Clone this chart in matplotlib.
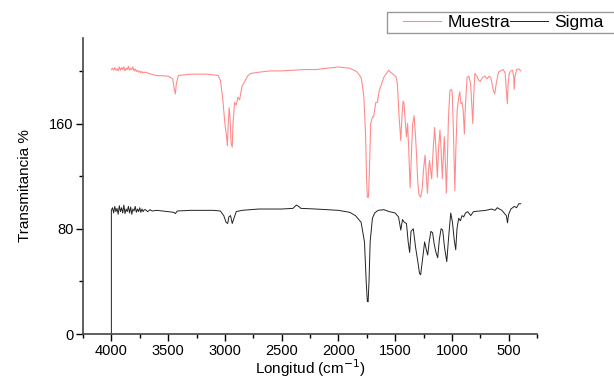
import matplotlib.pyplot as plt
from matplotlib.patches import Rectangle
from matplotlib.ticker import MultipleLocator

plt.rcParams['font.family'] = ['Liberation Sans', 'DejaVu Sans']

# Sigma spectrum (wavenumber, transmittance)
sigma_x = [4000, 4000, 3990, 3980, 3970, 3960, 3950, 3940, 3930, 3920, 3910, 3900, 3890, 3880,
           3870, 3860, 3850, 3840, 3830, 3820, 3810, 3800, 3790, 3780, 3770, 3760, 3750, 3740,
           3730, 3720, 3710, 3700, 3680, 3660, 3640, 3600, 3550, 3500, 3450, 3436, 3420, 3300,
           3100, 3040, 3010, 2990, 2975, 2965, 2950, 2935, 2920, 2900, 2850, 2700, 2500, 2400,
           2370, 2350, 2330, 2200, 2000, 1900, 1850, 1800, 1770, 1755, 1745, 1738, 1730, 1720,
           1700, 1680, 1650, 1600, 1550, 1500, 1470, 1450, 1435, 1420, 1400, 1385, 1372, 1360,
           1340, 1320, 1300, 1285, 1275, 1260, 1240, 1225, 1213, 1200, 1185, 1170, 1155, 1140,
           1125, 1110, 1095, 1081, 1065, 1045, 1030, 1010, 995, 980, 966, 955, 940, 925, 910,
           896, 880, 860, 834, 810, 750, 700, 650, 620, 600, 560, 540, 520, 510, 500, 480, 450,
           430, 410, 393]
sigma_y = [0, 94, 96, 92, 97, 93, 95.5, 91, 97.5, 93, 96, 92, 98, 91.5, 95, 93, 97, 92, 96.5,
           91, 95, 93.5, 97, 92.5, 95, 93, 96, 92.5, 95, 93, 94.5, 94.5, 93, 94.5, 93.5,
           94, 93.5, 93, 92.5, 91.5, 93.5, 94, 94, 93.5, 90, 85, 84, 89, 90, 84, 88, 93, 94, 95,
           95, 95.5, 98, 97, 95.5, 95, 94, 92.5, 90, 85, 70, 40, 25, 24.5, 40, 70, 88, 92, 94,
           94.5, 93, 92, 89, 79, 87, 85, 84, 70, 62, 78, 80, 66, 55, 46, 45, 56, 70, 64, 60, 70,
           78, 77, 68, 62, 58, 72, 80, 79, 66, 55, 72, 92, 85, 72, 64, 80, 88, 86, 90, 89, 92,
           93, 90, 93, 93.5, 94, 95, 94, 96, 94, 92, 90, 84.5, 91, 95, 97, 96, 99, 99]

# Muestra spectrum (wavenumber, transmittance)
muestra_x = [4000, 3990, 3980, 3970, 3960, 3950, 3940, 3930, 3920, 3910, 3900, 3890, 3880, 3870,
             3860, 3850, 3840, 3830, 3820, 3810, 3800, 3790, 3780, 3770, 3760, 3750, 3740, 3730,
             3720, 3700, 3650, 3600, 3500, 3460, 3445, 3436, 3428, 3410, 3300, 3150, 3060, 3040,
             3020, 3000, 2985, 2978, 2970, 2962, 2955, 2945, 2935, 2928, 2915, 2900, 2885, 2870,
             2850, 2800, 2775, 2700, 2600, 2500, 2400, 2300, 2200, 2100, 2000, 1950, 1900, 1850,
             1833, 1800, 1790, 1775, 1760, 1752, 1745, 1735, 1728, 1715, 1700, 1690, 1670, 1657,
             1640, 1600, 1570, 1557, 1540, 1510, 1490, 1480, 1465, 1450, 1440, 1430, 1421, 1410,
             1400, 1390, 1380, 1368, 1355, 1345, 1333, 1320, 1309, 1300, 1290, 1275, 1262, 1250,
             1236, 1225, 1215, 1205, 1197, 1188, 1178, 1165, 1152, 1140, 1128, 1118, 1105, 1095,
             1084, 1075, 1067, 1055, 1049, 1040, 1030, 1017, 1005, 997, 985, 974, 965, 953, 940,
             930, 920, 910, 900, 890, 880, 866, 850, 835, 825, 816, 808, 798, 780, 765, 750, 730,
             710, 690, 670, 657, 645, 635, 622, 610, 590, 560, 546, 530, 520, 511, 505, 495, 480,
             465, 455, 451, 445, 430, 410, 393]
muestra_y = [201, 202, 200.5, 202.5, 200.5, 201.5, 200, 203, 200.5, 202.5, 201, 203, 200, 202,
             201, 203.5, 200.5, 202, 201, 203, 200, 201.5, 199.5, 200.5, 199, 200, 198.5, 199.5,
             198.5, 199, 197.5, 196.5, 196, 194, 186, 182.5, 190, 196.5, 197.5, 197.5, 196.5,
             193, 180, 160, 150, 143, 160, 172, 165, 145, 142, 160, 176, 174, 180, 178, 188, 196,
             198, 199, 200, 200, 200.5, 201, 201, 202, 203, 202.5, 202, 200, 199, 195, 190, 180,
             150, 120, 104, 104, 120, 160, 165, 165, 176, 176, 185, 195, 199, 200.5, 199, 197,
             195, 190, 165, 147, 165, 177, 175, 160, 150, 160, 140, 111, 140, 160, 166, 150, 132,
             115, 106, 104, 110, 125, 136, 120, 107, 125, 132, 125, 118, 140, 157, 140, 119, 140,
             155, 140, 118, 135, 150, 125, 107, 130, 165, 185, 186, 184, 150, 109, 140, 170, 180,
             184, 175, 176, 170, 152, 175, 195, 196, 190, 175, 160, 180, 198, 196, 193, 192, 195,
             196, 194, 196, 195, 190, 185, 182.5, 190, 199, 200.5, 201, 198, 185, 175, 190, 198,
             200, 200.5, 195, 186, 195, 201, 201.5, 200]

fig = plt.figure(figsize=(6.14, 3.79), dpi=100)
ax = fig.add_axes([83 / 614, 1 - 334 / 379, (537 - 83) / 614, (334 - 38) / 379])

ax.plot(muestra_x, muestra_y, color='red', alpha=0.45, lw=0.8, label='Muestra')
ax.plot(sigma_x, sigma_y, color='#222222', lw=0.7, label='Sigma')

ax.set_xlim(4250, 250)
ax.set_ylim(0, 225)
ax.xaxis.set_major_locator(MultipleLocator(500))
ax.xaxis.set_minor_locator(MultipleLocator(250))
ax.yaxis.set_major_locator(MultipleLocator(80))
ax.yaxis.set_minor_locator(MultipleLocator(40))
ax.tick_params(which='major', direction='out', length=5, width=1, labelsize=10.5, pad=2)
ax.tick_params(which='minor', direction='out', length=3, width=1)

for s in ['top', 'right']:
    ax.spines[s].set_visible(False)
for s in ['left', 'bottom']:
    ax.spines[s].set_color('#444444')
    ax.spines[s].set_linewidth(1.2)

ax.set_xlabel('Longitud (cm$^{-1}$)', fontsize=11, labelpad=0)
ax.set_ylabel('Transmitancia %', fontsize=11, labelpad=12)

# legend box runs off the right edge, as in the original
fig.patches.append(Rectangle((387 / 614, 1 - 33 / 379), 240 / 614, 21 / 379,
                             transform=fig.transFigure, fill=False,
                             edgecolor='#999999', linewidth=1.0))
fig.legend(loc='center left', bbox_to_anchor=(403 / 614, 1 - 22.5 / 379), ncol=2,
           fontsize=12.5, frameon=False, handlelength=2.2,
           handletextpad=0.35, columnspacing=0.0, borderpad=0, borderaxespad=0)

fig.savefig('out.png', dpi=100)
